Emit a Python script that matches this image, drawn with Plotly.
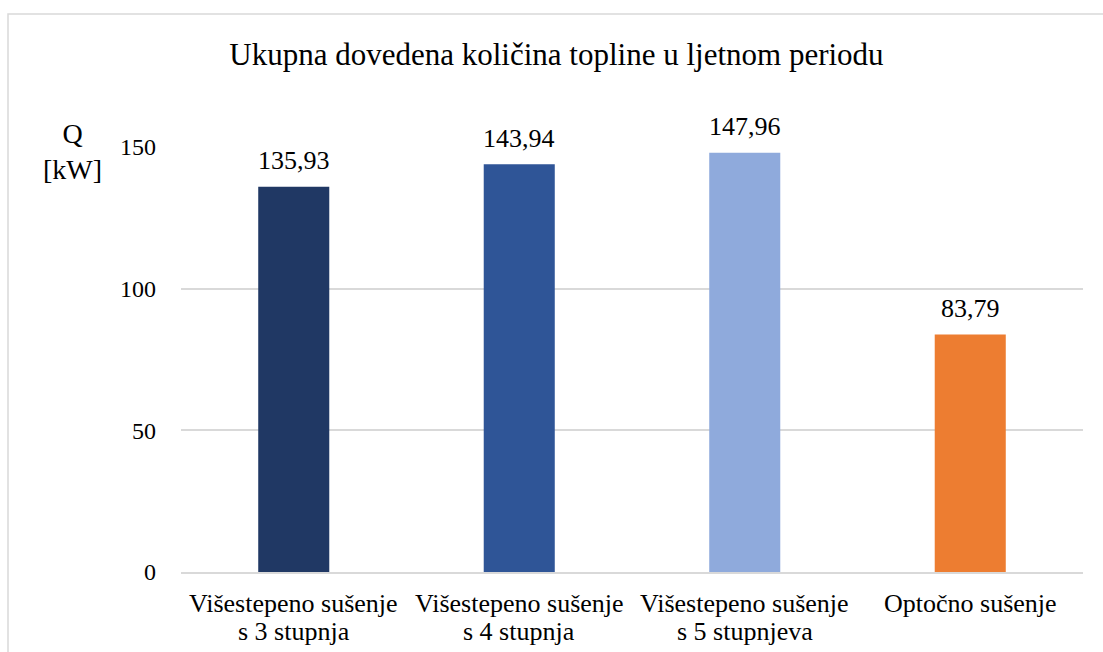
import plotly.graph_objects as go

# category names, split into the two printed lines
categories = [
    "Višestepeno sušenje s 3 stupnja",
    "Višestepeno sušenje s 4 stupnja",
    "Višestepeno sušenje s 5 stupnjeva",
    "Optočno sušenje",
]
label_line1 = ["Višestepeno sušenje", "Višestepeno sušenje", "Višestepeno sušenje", "Optočno sušenje"]
label_line2 = ["s 3 stupnja", "s 4 stupnja", "s 5 stupnjeva", ""]
values = [135.93, 143.94, 147.96, 83.79]
value_labels = ["135,93", "143,94", "147,96", "83,79"]
bar_colors = ["#203864", "#2F5597", "#8FAADC", "#ED7D31"]
y_ticks = [0, 50, 100, 150]

FONT = "Liberation Serif"
GRID = "#D9D9D9"

fig = go.Figure(
    go.Bar(
        x=categories,
        y=values,
        marker=dict(color=bar_colors, line=dict(width=0)),
        width=0.315,
        hoverinfo="x+y",
    )
)

fig.update_layout(
    width=1103,
    height=652,
    margin=dict(l=181, r=20, t=147, b=80),
    paper_bgcolor="white",
    plot_bgcolor="white",
    showlegend=False,
    title=dict(
        text="Ukupna dovedena količina topline u ljetnom periodu",
        x=0.5045,
        xanchor="center",
        y=1 - 54.5 / 652,
        yanchor="middle",
        font=dict(family=FONT, size=31, color="#000000"),
    ),
    xaxis=dict(
        showticklabels=False,
        showgrid=False,
        showline=True,
        linecolor=GRID,
        linewidth=1.5,
        ticks="",
    ),
    yaxis=dict(
        range=[0, 150],
        tickvals=y_ticks,
        ticktext=[str(v) for v in y_ticks],
        tickfont=dict(family=FONT, size=24, color="#000000"),
        showgrid=True,
        gridcolor=GRID,
        gridwidth=1.5,
        zeroline=False,
        showline=False,
        ticks="",
        ticklabelstandoff=24,
    ),
    shapes=[
        dict(
            type="rect",
            xref="paper",
            yref="paper",
            x0=-173 / 902,
            x1=1.05,
            y0=-0.3,
            y1=(652 - 14 - 80) / 425,
            line=dict(color=GRID, width=1.5),
            fillcolor="rgba(0,0,0,0)",
            layer="below",
        )
    ],
)

# axis unit label, top-left
fig.add_annotation(
    text="Q<br>[kW]",
    xref="paper",
    yref="paper",
    x=(72 - 181) / 902,
    y=(652 - 152 - 80) / 425,
    xanchor="center",
    yanchor="middle",
    showarrow=False,
    align="center",
    font=dict(family=FONT, size=28, color="#000000"),
)

# value labels above each bar
for cat, val, lab in zip(categories, values, value_labels):
    fig.add_annotation(
        x=cat,
        y=val,
        text=lab,
        showarrow=False,
        xanchor="center",
        yanchor="middle",
        yshift=26,
        font=dict(family=FONT, size=26, color="#000000"),
    )

# category labels under the axis, two tight lines each
for cat, l1, l2 in zip(categories, label_line1, label_line2):
    for txt, shift in ((l1, -31), (l2, -59)):
        if not txt:
            continue
        fig.add_annotation(
            x=cat,
            xref="x",
            y=0,
            yref="paper",
            text=txt,
            showarrow=False,
            xanchor="center",
            yanchor="middle",
            yshift=shift,
            font=dict(family=FONT, size=26, color="#000000"),
        )

fig.write_html("out.html")
